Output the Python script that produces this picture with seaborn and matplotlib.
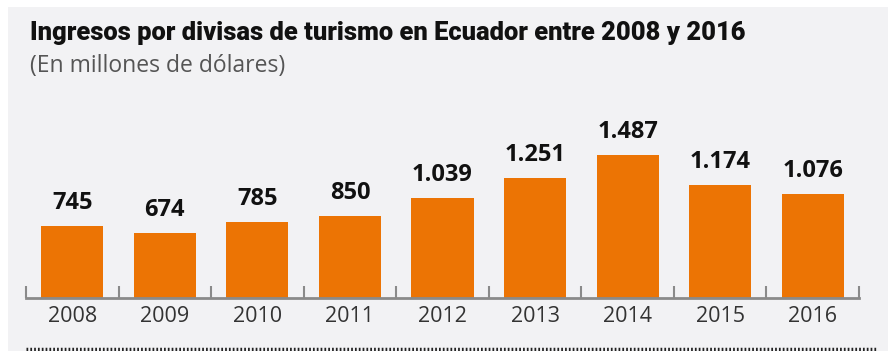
import matplotlib
matplotlib.use("Agg")
import matplotlib.pyplot as plt
from matplotlib.patches import Rectangle
from matplotlib.lines import Line2D
from matplotlib.ticker import FixedLocator
import seaborn as sns
import pandas as pd

years = ["2008", "2009", "2010", "2011", "2012", "2013", "2014", "2015", "2016"]
values = [745, 674, 785, 850, 1039, 1251, 1487, 1174, 1076]
title = "Ingresos por divisas de turismo en Ecuador entre 2008 y 2016"
subtitle = "(En millones de dólares)"

W, H = 888, 351
sns.set_theme(style="white")
plt.rcParams["font.family"] = ["Open Sans", "DejaVu Sans"]

fig = plt.figure(figsize=(W / 100, H / 100), dpi=100, facecolor="white")
# gray panel
fig.patches.append(Rectangle((8 / W, 0), 1 - 8 / W, 1 - 7 / H, transform=fig.transFigure,
                             facecolor="#f2f2f4", edgecolor="none", zorder=-5))

ax = fig.add_axes([26 / W, (H - 298) / H, 833 / W, 198 / H])
ax.set_facecolor("none")

df = pd.DataFrame({"year": years, "value": values})
sns.barplot(data=df, x="year", y="value", color="#ec7404", saturation=1,
            width=0.67, ax=ax, zorder=2, edgecolor="none", linewidth=0)

ax.set_xlim(-0.5, len(years) - 0.5)
ax.set_ylim(0, 2058)
for s in ["top", "right", "left"]:
    ax.spines[s].set_visible(False)
ax.spines["bottom"].set_color("#8a8a8a")
ax.spines["bottom"].set_linewidth(2)
ax.spines["bottom"].set_zorder(3)
ax.set_yticks([])
ax.set_xlabel("")
ax.set_ylabel("")
ax.tick_params(axis="x", which="major", bottom=False, length=0, pad=6, labelsize=15.5,
               labelcolor="#333333")
ax.xaxis.set_minor_locator(FixedLocator([i - 0.5 for i in range(len(years) + 1)]))
ax.tick_params(axis="x", which="minor", bottom=True, direction="in", length=9, width=1.5,
               color="#8a8a8a")

labels = [f"{v:,}".replace(",", ".") for v in values]
ax.bar_label(ax.containers[0], labels=labels, padding=8, fontsize=17,
             fontweight="bold", color="#111111")

fig.text(30 / W, 1 - 33 / H, title, fontsize=18.4, fontweight="black", color="#111111",
         family=["Roboto", "DejaVu Sans"], va="center", ha="left")
fig.text(30 / W, 1 - 66 / H, subtitle, fontsize=16.5, color="#555555",
         va="center", ha="left")

fig.lines.append(Line2D([26 / W, 876 / W], [1 - 349 / H, 1 - 349 / H], transform=fig.transFigure,
                        color="#222222", linewidth=2.5, linestyle=(0, (0.5, 0.6))))

fig.savefig("out.png", dpi=100, facecolor="white")
